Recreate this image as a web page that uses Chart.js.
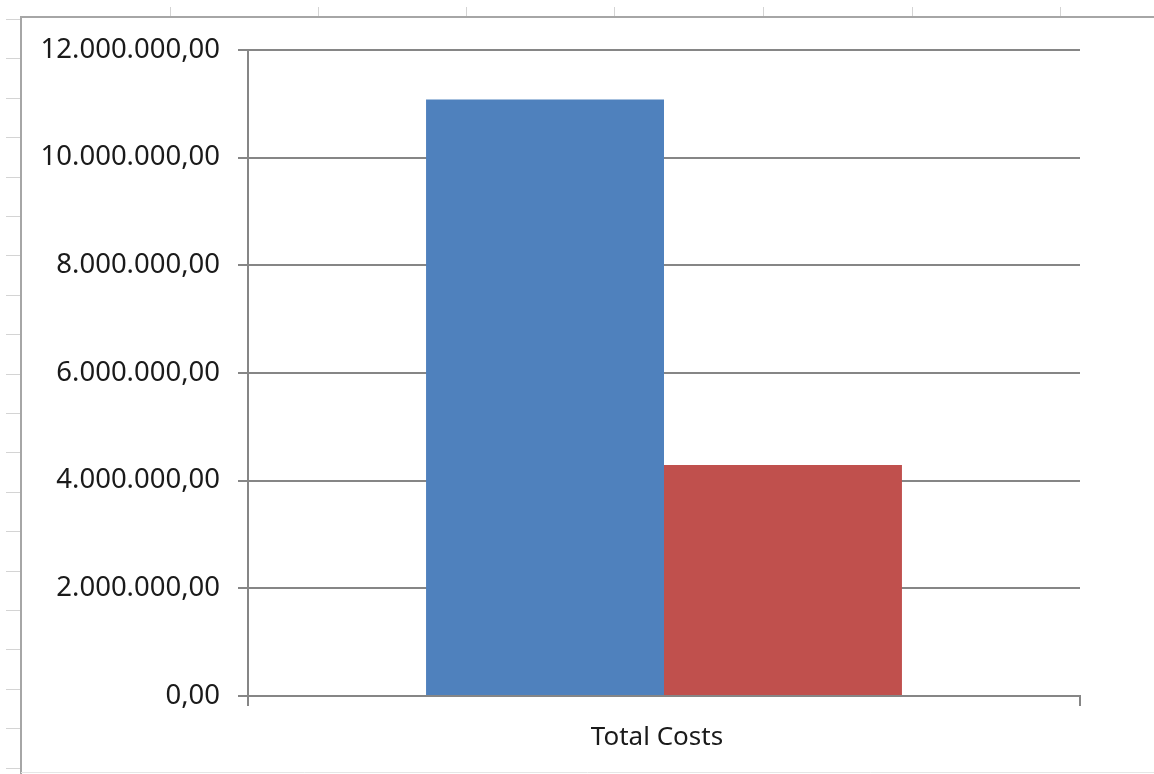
<!DOCTYPE html>
<html>
<head>
<meta charset="utf-8">
<title>Total Costs</title>
<script src="https://cdn.jsdelivr.net/npm/chart.js@4"></script>
<style>
  html, body { margin: 0; padding: 0; background: #fff; }
  #wrap { position: relative; width: 1154px; height: 774px; }
</style>
</head>
<body>
<div id="wrap"><canvas id="chart" width="1154" height="774"></canvas></div>
<script>
  // chart data
  var categories = ['Total Costs'];
  var seriesNames = ['Series 1', 'Series 2'];
  var series1 = [11080000];
  var series2 = [4290000];
  var yTicks = { min: 0, max: 12000000, step: 2000000 };

  var AXIS_GRAY = '#868686';

  function formatDe(v) {
    var parts = Math.abs(v).toFixed(2).split('.');
    var intPart = parts[0].replace(/\B(?=(\d{3})+(?!\d))/g, '.');
    return (v < 0 ? '-' : '') + intPart + ',' + parts[1];
  }

  // spreadsheet cell frame behind the chart (just decoration)
  var sheetFrame = {
    id: 'sheetFrame',
    beforeDraw: function (chart) {
      var ctx = chart.ctx;
      ctx.save();
      ctx.strokeStyle = '#d4d4d4';
      ctx.lineWidth = 1;
      // column markers above the frame
      [170, 318, 466, 614, 763, 912, 1060].forEach(function (x) {
        ctx.beginPath(); ctx.moveTo(x + 0.5, 7); ctx.lineTo(x + 0.5, 16); ctx.stroke();
      });
      // row markers left of the frame
      for (var y = 19; y < 774; y += 39.4) {
        ctx.beginPath(); ctx.moveTo(6, Math.round(y) + 0.5); ctx.lineTo(20, Math.round(y) + 0.5); ctx.stroke();
      }
      ctx.strokeStyle = '#a6a6a6';
      ctx.lineWidth = 2;
      ctx.beginPath();
      ctx.moveTo(1154, 17); ctx.lineTo(21, 17); ctx.lineTo(21, 774);
      ctx.stroke();
      ctx.strokeStyle = '#e6e6e6';
      ctx.lineWidth = 1;
      ctx.beginPath(); ctx.moveTo(21, 772.5); ctx.lineTo(1154, 772.5); ctx.stroke();
      ctx.restore();
    }
  };

  Chart.defaults.font.family = "'Noto Sans', 'Open Sans', sans-serif";
  Chart.defaults.font.size = 26;
  Chart.defaults.color = '#1a1a1a';

  new Chart(document.getElementById('chart'), {
    type: 'bar',
    data: {
      labels: categories,
      datasets: [
        { label: seriesNames[0], data: series1, backgroundColor: '#4F81BD' },
        { label: seriesNames[1], data: series2, backgroundColor: '#C0504D' }
      ]
    },
    plugins: [sheetFrame],
    options: {
      responsive: false,
      animation: false,
      events: [],
      layout: { padding: { left: 0, right: 74, top: 50, bottom: 0 } },
      plugins: { legend: { display: false }, tooltip: { enabled: false } },
      datasets: { bar: { categoryPercentage: 0.572, barPercentage: 1 } },
      scales: {
        x: {
          grid: { drawOnChartArea: false, drawTicks: true, tickLength: 10, color: AXIS_GRAY, lineWidth: 2 },
          border: { color: AXIS_GRAY, width: 2 },
          ticks: { padding: 16, labelOffset: -7, font: { size: 26 } },
          afterFit: function (scale) { scale.height = 78; }
        },
        y: {
          min: yTicks.min,
          max: yTicks.max,
          grid: { color: AXIS_GRAY, lineWidth: 2, tickLength: 10 },
          border: { color: AXIS_GRAY, width: 2 },
          ticks: {
            stepSize: yTicks.step,
            padding: 18,
            font: { size: 27.5 },
            callback: function (v) { return formatDe(v); }
          },
          afterFit: function (scale) { scale.width = 248; }
        }
      }
    }
  });
</script>
</body>
</html>
